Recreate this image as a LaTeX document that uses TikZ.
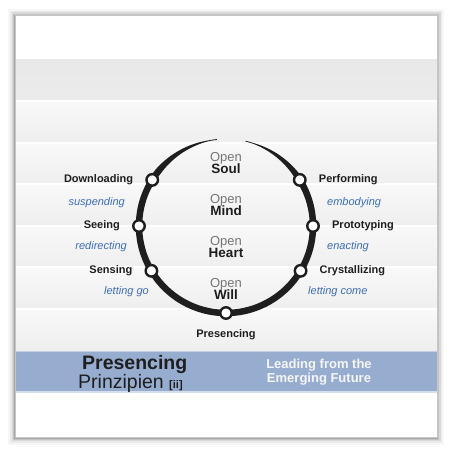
\documentclass[tikz,border=0pt]{standalone}
\usepackage{fontspec}
\setmainfont{Liberation Sans}
\usepackage{xcolor}
\usepackage{tikz}
\usetikzlibrary{calc, positioning}
\definecolor{bandBlue}{HTML}{97ADD0}
\definecolor{verbBlue}{HTML}{3D6DB8}
\definecolor{openGray}{HTML}{767676}
\definecolor{inkColor}{HTML}{1E1E1E}

\begin{document}
\begin{tikzpicture}[x=1pt, y=1pt,
    station/.style={circle, draw=inkColor, line width=2.4pt, fill=white, minimum size=11.5pt, inner sep=0pt},
    stage/.style={font=\bfseries\fontsize{11}{13}\selectfont, text=inkColor, inner sep=0pt},
    verb/.style={font=\itshape\fontsize{11}{13}\selectfont, text=verbBlue, inner sep=0pt},
    openword/.style={font=\fontsize{13}{15}\selectfont, text=openGray, inner sep=0pt, anchor=base},
    fieldword/.style={font=\bfseries\fontsize{13.5}{15}\selectfont, text=inkColor, inner sep=0pt, anchor=base},
    tagline/.style={font=\bfseries\fontsize{13}{15}\selectfont, text=gray!8, inner sep=0pt, anchor=base},
    declare function={w(\t)=6.5*max(0.12,min(1,(\t-96)/45,(437-\t)/45));}]
    \useasboundingbox (0,0) rectangle (453,453);
    % soft shadow of the card
    \foreach \s/\o in {7/0.03,5/0.05,3.5/0.07,2/0.10,1/0.14}
        \fill[black, opacity=\o] (15-\s,16-\s-1) rectangle (437+\s,438+\s-1);
    \fill[white] (15,16) rectangle (437,438);
    % stripes
    \shade[top color=gray!18, bottom color=gray!15] (15,393) rectangle (437,352);
    \foreach \top in {352,310,269,227,186,144}
        \shade[top color=gray!5, bottom color=gray!13] (15,\top) rectangle (437,\top-42);
    \foreach \top in {352,310,269,227,186,144}
        \draw[white, line width=1.2pt] (15,\top) -- (437,\top);
    % blue band
    \fill[bandBlue] (15,60) rectangle (437,102);
    \draw[bandBlue!60!white, line width=1pt] (15,101.5) -- (437,101.5);
    \draw[bandBlue!40!white, line width=1.6pt] (15,60.8) -- (437,60.8);
    \draw[gray!45, line width=0.8pt] (15,16) rectangle (437,438);
    % brush arc
    \coordinate (c) at (226,227);
    \fill[inkColor] plot[domain=96:437, samples=160]
        ({226+(87+w(\x)/2)*cos(\x)}, {227+(87+w(\x)/2)*sin(\x)})
        -- plot[domain=437:96, samples=160]
        ({226+(87-w(\x)/2)*cos(\x)}, {227+(87-w(\x)/2)*sin(\x)}) -- cycle;
    % stations
    \node[station] (dl) at ($(c)+(148:87)$) {};
    \node[station] (se) at ($(c)+(180:87)$) {};
    \node[station] (sn) at ($(c)+(211:87)$) {};
    \node[station] (pr) at ($(c)+(270:87)$) {};
    \node[station] (cr) at ($(c)+(329:87)$) {};
    \node[station] (pt) at ($(c)+(0:87)$) {};
    \node[station] (pf) at ($(c)+(32:87)$) {};
    \node[stage, left=12pt of dl] (ldl) {Downloading};
    \node[stage, left=12pt of se] (lse) {Seeing};
    \node[stage, left=12pt of sn] (lsn) {Sensing};
    \node[stage, below=9pt of pr] (lpr) {Presencing};
    \node[stage, right=12pt of cr] (lcr) {Crystallizing};
    \node[stage, right=12pt of pt] (lpt) {Prototyping};
    \node[stage, right=12pt of pf] (lpf) {Performing};
    % movements
    \node[verb, anchor=east] (vsus) at (125,250) {suspending};
    \node[verb, anchor=east] (vred) at (127,206) {redirecting};
    \node[verb, anchor=east] (vlgo) at (149,161) {letting go};
    \node[verb, anchor=west] (vemb) at (327,250) {embodying};
    \node[verb, anchor=west] (vena) at (327,206) {enacting};
    \node[verb, anchor=west] (vlco) at (308,161) {letting come};
    % open fields
    \foreach \i/\field in {0/Soul,1/Mind,2/Heart,3/Will} {
        \node[openword] (open\i) at (226,291.5-42*\i) {Open};
        \node[fieldword] (\field) at (226,279-42*\i) {\field};
    }
    % band texts
    \node[font=\bfseries\fontsize{19.5}{22}\selectfont, text=inkColor, inner sep=0pt, anchor=base west] (title) at (82,83) {Presencing};
    \node[font=\fontsize{19.5}{22}\selectfont, text=inkColor, inner sep=0pt, anchor=base west] (subtitle) at (78,64.5) {Prinzipien {\bfseries\fontsize{11}{12}\selectfont[ii]}};
    \node[tagline] (lead) at (319,84) {Leading from the};
    \node[tagline] (emerg) at (319,70.5) {Emerging Future};
\end{tikzpicture}
\end{document}
